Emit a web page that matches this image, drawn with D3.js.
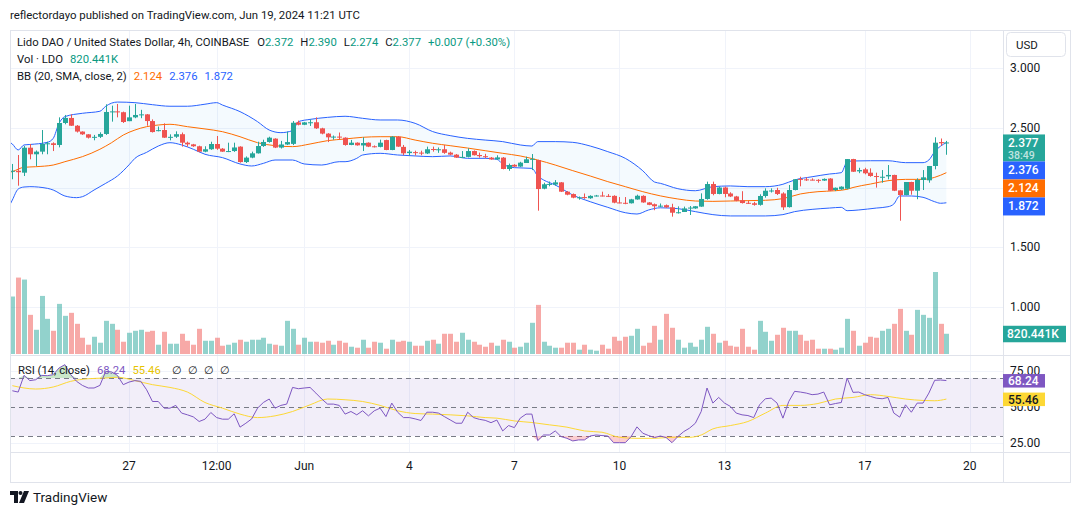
<!DOCTYPE html>
<html>
<head>
<meta charset="utf-8">
<script src="https://cdnjs.cloudflare.com/ajax/libs/d3/7.8.5/d3.min.js"></script>
<style>
  body { margin: 0; background: #fff; }
  svg { display: block; font-family: Roboto, "Noto Sans", sans-serif; }
</style>
</head>
<body>
<div id="container"></div>
<script>
let w = 1080;
let h = 515;

// DATA  (4h bars, first bar = May 23 16:00 UTC, bar offset k counted from May 27 00:00)
let firstBar = -20;

let opens = [
  2.135,2.140,2.124,2.333,2.278,2.300,2.364,2.370,2.356,2.540,
  2.582,2.517,2.468,2.445,2.417,2.424,2.448,2.632,2.637,2.630,
  2.555,2.587,2.607,2.612,2.556,2.475,2.481,2.417,2.425,2.446,
  2.375,2.361,2.345,2.300,2.320,2.364,2.325,2.300,2.305,2.342,
  2.213,2.250,2.286,2.347,2.381,2.409,2.334,2.360,2.365,2.545,
  2.525,2.540,2.546,2.495,2.451,2.420,2.426,2.417,2.356,2.375,
  2.352,2.375,2.345,2.340,2.397,2.314,2.425,2.340,2.288,2.296,
  2.292,2.285,2.322,2.316,2.320,2.292,2.275,2.250,2.256,2.305,
  2.272,2.262,2.250,2.235,2.250,2.155,2.190,2.175,2.205,2.235,
  2.230,1.990,2.027,2.025,2.043,1.965,1.945,1.915,1.920,1.910,
  1.930,1.933,1.930,1.930,1.875,1.872,1.868,1.900,1.930,1.875,
  1.860,1.843,1.852,1.834,1.789,1.795,1.825,1.825,1.840,1.904,
  2.029,1.946,2.000,1.950,1.925,1.893,1.872,1.868,1.855,1.929,
  1.972,1.979,1.950,1.836,1.979,2.072,2.068,2.066,2.064,2.058,
  2.075,1.979,1.985,1.990,2.238,2.135,2.152,2.124,2.096,2.085,
  2.093,2.105,1.976,1.937,2.046,1.973,2.063,2.060,2.180,2.380,
  2.372
];
let highs = [
  2.197,2.272,2.347,2.364,2.310,2.481,2.383,2.378,2.587,2.607,
  2.612,2.523,2.470,2.447,2.440,2.462,2.696,2.685,2.699,2.635,
  2.685,2.699,2.650,2.615,2.570,2.510,2.537,2.445,2.470,2.460,
  2.384,2.365,2.350,2.345,2.383,2.431,2.330,2.375,2.375,2.345,
  2.260,2.300,2.383,2.400,2.425,2.412,2.390,2.468,2.556,2.560,
  2.548,2.570,2.587,2.500,2.455,2.435,2.460,2.420,2.398,2.378,
  2.420,2.378,2.352,2.400,2.400,2.430,2.430,2.356,2.314,2.308,
  2.308,2.342,2.342,2.335,2.356,2.300,2.280,2.305,2.328,2.310,
  2.292,2.282,2.255,2.270,2.255,2.200,2.195,2.215,2.258,2.280,
  2.232,2.040,2.050,2.062,2.046,1.970,1.950,1.925,1.950,1.935,
  1.938,1.965,1.945,1.935,1.920,1.920,1.905,1.940,1.935,1.878,
  1.866,1.866,1.858,1.864,1.842,1.840,1.845,1.845,1.951,2.049,
  2.049,2.007,2.007,1.960,1.930,1.969,1.888,1.880,1.943,1.993,
  1.993,1.998,1.960,2.021,2.071,2.090,2.085,2.077,2.070,2.076,
  2.078,2.000,2.010,2.238,2.240,2.165,2.165,2.160,2.124,2.146,
  2.188,2.107,1.980,2.046,2.048,2.077,2.146,2.180,2.420,2.410,
  2.390
];
let lows = [
  2.069,2.015,2.096,2.236,2.180,2.278,2.278,2.305,2.336,2.529,
  2.515,2.460,2.440,2.410,2.395,2.414,2.440,2.551,2.587,2.540,
  2.555,2.580,2.580,2.517,2.460,2.470,2.415,2.395,2.415,2.342,
  2.342,2.340,2.295,2.295,2.315,2.315,2.298,2.296,2.298,2.208,
  2.205,2.245,2.284,2.340,2.375,2.330,2.326,2.355,2.355,2.520,
  2.522,2.515,2.490,2.445,2.380,2.400,2.398,2.350,2.354,2.350,
  2.305,2.338,2.335,2.336,2.312,2.312,2.340,2.270,2.268,2.268,
  2.270,2.280,2.300,2.290,2.282,2.270,2.248,2.248,2.252,2.268,
  2.250,2.245,2.232,2.232,2.152,2.140,2.172,2.172,2.205,2.146,
  1.806,1.985,2.010,2.015,1.962,1.935,1.910,1.898,1.905,1.905,
  1.925,1.925,1.920,1.868,1.868,1.860,1.866,1.898,1.872,1.852,
  1.810,1.835,1.830,1.756,1.782,1.795,1.770,1.822,1.838,1.898,
  1.935,1.943,1.918,1.920,1.885,1.866,1.862,1.848,1.848,1.915,
  1.958,1.937,1.812,1.832,1.976,2.010,2.055,2.060,2.040,2.055,
  1.970,1.970,1.980,1.985,2.130,2.120,2.110,2.090,1.999,2.040,
  2.068,1.970,1.722,1.935,1.940,1.902,1.979,2.040,2.152,2.350,
  2.274
];
let closes = [
  2.140,2.128,2.333,2.278,2.300,2.364,2.370,2.356,2.540,2.582,
  2.517,2.468,2.445,2.417,2.424,2.448,2.632,2.637,2.630,2.548,
  2.587,2.607,2.612,2.556,2.464,2.480,2.417,2.424,2.446,2.375,
  2.361,2.345,2.300,2.320,2.364,2.325,2.300,2.305,2.335,2.213,
  2.250,2.286,2.347,2.381,2.417,2.334,2.360,2.380,2.542,2.525,
  2.545,2.546,2.495,2.451,2.420,2.426,2.420,2.356,2.375,2.353,
  2.372,2.342,2.340,2.375,2.314,2.425,2.342,2.286,2.300,2.290,
  2.285,2.320,2.316,2.320,2.290,2.275,2.250,2.256,2.305,2.270,
  2.262,2.258,2.235,2.252,2.155,2.188,2.175,2.208,2.236,2.240,
  1.987,2.027,2.030,2.043,1.965,1.940,1.915,1.918,1.916,1.930,
  1.933,1.930,1.926,1.873,1.872,1.868,1.901,1.931,1.875,1.855,
  1.843,1.848,1.834,1.789,1.793,1.825,1.832,1.843,1.904,2.029,
  1.946,2.000,1.946,1.925,1.889,1.870,1.868,1.855,1.929,1.973,
  1.975,1.946,1.834,1.979,2.069,2.066,2.065,2.062,2.058,2.072,
  1.973,1.998,2.007,2.238,2.132,2.146,2.119,2.096,2.090,2.090,
  2.105,1.973,1.937,2.046,1.973,2.063,2.085,2.180,2.375,2.370,
  2.377
];
// volume in thousands of LDO
let volumes = [
  2331,3099,3018,1588,982,2355,1426,941,2032,1547,
  1669,1224,659,376,699,457,1345,1224,982,497,
  861,941,982,901,941,376,901,416,416,820,
  537,376,1022,537,537,659,335,376,457,578,
  497,578,578,659,416,376,335,1345,1022,376,
  659,497,497,457,537,376,537,457,295,255,
  578,255,497,457,214,578,497,537,497,335,
  335,537,578,416,820,820,497,861,578,497,
  376,295,457,335,578,497,255,295,457,1265,
  1992,497,335,255,255,457,457,174,376,174,
  133,376,214,699,537,699,739,1022,335,457,
  1143,578,1628,1063,578,255,457,295,578,1103,
  820,457,537,335,295,1022,295,174,1345,901,
  537,780,1063,941,941,780,537,578,214,214,
  214,174,255,1426,941,335,457,699,659,941,
  1022,1224,1830,941,780,1790,1588,1467,3325,1224,
  820.441
];
let rsiValues = [
  61.2,60.3,71.8,68.2,68.8,71.8,71.6,72.3,76.9,79.2,
  72.3,67.7,64.9,63.1,63.1,64.9,74.6,74.2,71.8,65.4,
  67.2,68.2,67.7,61.9,53.8,53.8,49.2,49.2,51.1,45.8,
  44.6,43.2,40.0,41.6,46.2,42.7,41.6,41.6,45.3,36.1,
  38.8,41.8,49.2,53.1,55.5,49.2,51.1,52.0,63.5,62.6,
  63.1,63.5,59.6,55.5,52.0,52.0,51.1,45.1,46.9,44.6,
  47.4,43.9,47.4,49.2,43.4,52.7,46.4,42.7,42.7,41.8,
  40.7,46.4,46.4,45.8,43.4,41.1,38.8,38.8,46.4,42.7,
  41.5,40.8,39.2,41.0,33.5,37.2,35.8,42.3,45.1,45.1,
  26.8,30.7,30.7,33.5,29.6,28.4,26.6,27.3,27.3,30.0,
  30.7,30.3,30.0,25.4,25.4,25.4,29.6,36.3,31.9,30.3,
  28.9,30.0,28.9,25.4,29.6,33.0,35.4,38.8,46.9,63.1,
  52.7,56.6,52.7,50.4,45.8,44.6,44.1,42.7,51.5,55.7,
  56.1,52.7,42.3,53.8,60.8,60.3,59.6,58.5,58.9,60.3,
  51.5,52.4,53.1,70.0,60.1,60.3,58.5,57.3,56.1,55.7,
  56.6,45.8,43.0,51.5,46.4,52.7,52.7,59.6,68.4,68.6,
  68.24
];

// Bollinger bands and RSI MA: [bar offset, value]
let bbUpper = [[-21,2.397],[-20,2.364],[-19,2.314],[-18,2.356],[-17,2.36],[-14,2.378],[-13,2.411],[-12,2.537],[-11,2.593],[-8,2.621],[-5,2.638],[-4,2.68],[-2,2.715],[1,2.71],[4,2.693],[7,2.68],[10,2.68],[13,2.697],[15,2.71],[16,2.69],[19,2.635],[22,2.551],[24,2.481],[26,2.459],[28,2.476],[29,2.551],[31,2.57],[34,2.587],[37,2.596],[40,2.579],[43,2.565],[46,2.565],[49,2.537],[52,2.468],[55,2.434],[58,2.411],[61,2.397],[64,2.384],[67,2.356],[69,2.347],[70,2.384],[73,2.384],[76,2.378],[79,2.347],[82,2.30],[85,2.244],[88,2.14],[90,2.046],[91,2.035],[94,1.99],[97,1.973],[100,2.007],[103,2.013],[106,2.007],[109,2.007],[112,2.027],[114,2.063],[117,2.09],[120,2.113],[122,2.124],[123,2.215],[124,2.222],[127,2.224],[130,2.224],[133,2.208],[136,2.208],[137,2.23],[138,2.30],[140,2.376]];
let bbBasis = [[-21,2.119],[-20,2.133],[-18,2.169],[-16,2.174],[-13,2.188],[-11,2.216],[-8,2.258],[-5,2.32],[-3,2.375],[-1,2.439],[1,2.481],[3,2.509],[5,2.523],[7,2.529],[10,2.509],[13,2.49],[16,2.467],[19,2.425],[22,2.375],[25,2.35],[28,2.342],[31,2.364],[34,2.392],[37,2.406],[40,2.42],[43,2.425],[46,2.425],[49,2.397],[52,2.37],[55,2.35],[58,2.33],[61,2.308],[64,2.286],[67,2.264],[70,2.23],[73,2.188],[76,2.141],[79,2.096],[82,2.049],[85,2.007],[88,1.965],[91,1.93],[94,1.904],[97,1.887],[100,1.884],[103,1.887],[106,1.89],[109,1.893],[112,1.907],[115,1.946],[118,1.965],[121,1.973],[123,1.985],[124,2.0],[127,2.029],[130,2.057],[133,2.068],[136,2.068],[138,2.085],[140,2.124]];
let bbLower = [[-21,1.80],[-20,1.895],[-19,1.987],[-18,2.004],[-17,2.007],[-14,1.993],[-13,1.979],[-11,1.929],[-9,1.915],[-8,1.923],[-6,1.979],[-4,2.035],[-2,2.096],[0,2.19],[1,2.244],[3,2.294],[5,2.347],[7,2.375],[9,2.356],[11,2.32],[13,2.278],[16,2.25],[19,2.197],[21,2.18],[23,2.202],[25,2.23],[28,2.23],[30,2.197],[33,2.188],[36,2.216],[37,2.216],[39,2.244],[40,2.272],[43,2.286],[46,2.272],[49,2.264],[52,2.258],[55,2.264],[58,2.244],[61,2.244],[63,2.236],[64,2.197],[66,2.166],[69,2.16],[70,2.096],[71,2.063],[73,2.021],[76,1.937],[79,1.881],[82,1.834],[85,1.789],[87,1.778],[89,1.812],[91,1.83],[94,1.823],[97,1.798],[100,1.773],[103,1.762],[106,1.762],[109,1.762],[112,1.773],[114,1.798],[117,1.817],[120,1.828],[122,1.834],[123,1.806],[125,1.812],[128,1.828],[130,1.839],[131,1.862],[132,1.929],[134,1.929],[136,1.918],[138,1.881],[139,1.868],[140,1.872]];
let rsiMa = [[-20,64.7],[-16,62.4],[-13,63.8],[-10,67.7],[-7,69.5],[-4,70],[-2,70.5],[1,68.2],[4,65.4],[7,63.5],[10,60.3],[13,53.1],[16,49.2],[19,45.1],[22,42.7],[25,43.9],[28,46.9],[31,51.5],[34,55.5],[37,55.0],[40,53.8],[43,51.1],[46,47.4],[49,45.5],[52,45.1],[55,44.6],[58,43.9],[61,42.7],[63,42.3],[66,40.4],[69,39.3],[72,37.7],[75,36.1],[78,33.5],[81,32.6],[84,29.1],[87,28.4],[90,28.4],[93,29.1],[96,29.1],[98,30.7],[100,34.9],[103,37.2],[106,40.0],[109,45.8],[112,51.1],[115,51.1],[118,52.4],[121,55.5],[124,56.6],[127,58.5],[130,57.3],[133,55.5],[136,54.5],[138,54.3],[140,55.46]];

let priceGrid = [1.0, 1.5, 2.0, 2.5, 3.0];
let priceLabels = [1.0, 1.5, 2.5, 3.0];
let rsiGrid = [25, 75];
let rsiLabels = [25, 50, 75];
let rsiBands = [70, 50, 30];
let timeTicks = [0, 15, 30, 48, 66, 84, 102, 126, 144];
let timeLabels = ["27", "12:00", "Jun", "4", "7", "10", "13", "17", "20"];
let countdown = "38:49";

// LAYOUT
let padL = 10, paneR = 1003, outerR = 1070;
let padT = 30, mainB = 354, rsiT = 355, rsiB = 452, outerB = 482;

let up = "#089981";
let upC = "#26a69a", downC = "#ef5350";
let ink = "#131722";

let svg = d3.select("#container").append("svg")
  .attr("width", w).attr("height", h);

let H4 = 4 * 3600 * 1000;
let may27 = Date.UTC(2024, 4, 27);
function barTime(k) { return new Date(may27 + k * H4); }

// SCALES
let x = d3.scaleUtc().domain([barTime(-20.4), barTime(149.7)]).range([padL, paneR]);
let yP = d3.scaleLinear().domain([1, 3]).range([307, 68]);
let yV = d3.scaleLinear().domain([0, d3.max(volumes)]).range([mainB, mainB - 82]);
let yR = d3.scaleLinear().domain([25, 75]).range([443.25, 370.75]);

let bars = opens.map(function(o, i) {
  return { k: i + firstBar, o: o, h: highs[i], l: lows[i], c: closes[i], v: volumes[i], r: rsiValues[i] };
});

// clip paths
let defs = svg.append("defs");
defs.append("clipPath").attr("id", "mainClip").append("rect")
  .attr("x", padL).attr("y", padT).attr("width", paneR - padL).attr("height", mainB - padT);
defs.append("clipPath").attr("id", "rsiClip").append("rect")
  .attr("x", padL).attr("y", rsiT).attr("width", paneR - padL).attr("height", rsiB - rsiT);

// HEADER
svg.append("text").attr("x", 10).attr("y", 19)
  .attr("font-size", 11.4).attr("fill", ink)
  .text("reflectordayo published on TradingView.com, Jun 19, 2024 11:21 UTC");

// GRID
let grid = svg.append("g").attr("stroke", "#f0f3fa").attr("stroke-width", 1);
grid.selectAll(".hg").data(priceGrid).enter().append("line")
  .attr("x1", padL).attr("x2", paneR)
  .attr("y1", function(d) { return Math.round(yP(d)) + 0.5; })
  .attr("y2", function(d) { return Math.round(yP(d)) + 0.5; });
grid.selectAll(".rg").data(rsiGrid).enter().append("line")
  .attr("x1", padL).attr("x2", paneR)
  .attr("y1", function(d) { return Math.round(yR(d)) + 0.5; })
  .attr("y2", function(d) { return Math.round(yR(d)) + 0.5; });
grid.selectAll(".vg").data(timeTicks).enter().append("line")
  .attr("y1", padT).attr("y2", rsiB)
  .attr("x1", function(d) { return Math.round(x(barTime(d))) + 0.5; })
  .attr("x2", function(d) { return Math.round(x(barTime(d))) + 0.5; });

// MAIN PANE
let main = svg.append("g").attr("clip-path", "url(#mainClip)");

// volume
main.selectAll(".vol").data(bars).enter().append("rect")
  .attr("x", function(d) { return Math.round(x(barTime(d.k))) - 2; })
  .attr("width", 5)
  .attr("y", function(d) { return yV(d.v); })
  .attr("height", function(d) { return mainB - yV(d.v); })
  .attr("fill", function(d) { return d.c >= d.o ? upC : downC; })
  .attr("opacity", 0.5);

// bollinger bands
let bandLine = d3.line()
  .x(function(d) { return x(barTime(d[0])); })
  .y(function(d) { return yP(d[1]); })
  .curve(d3.curveMonotoneX);
let fillPath = bandLine(bbUpper) + "L" + bandLine(bbLower.slice().reverse()).slice(1) + "Z";
main.append("path").attr("d", fillPath).attr("fill", "rgba(33,150,243,0.05)");
main.append("path").attr("d", bandLine(bbUpper)).attr("fill", "none").attr("stroke", "#2962ff").attr("stroke-width", 1);
main.append("path").attr("d", bandLine(bbLower)).attr("fill", "none").attr("stroke", "#2962ff").attr("stroke-width", 1);
main.append("path").attr("d", bandLine(bbBasis)).attr("fill", "none").attr("stroke", "#ff6d00").attr("stroke-width", 1);

// candles
let candles = main.selectAll(".candle").data(bars).enter().append("g");
candles.append("line")
  .attr("x1", function(d) { return Math.round(x(barTime(d.k))) + 0.5; })
  .attr("x2", function(d) { return Math.round(x(barTime(d.k))) + 0.5; })
  .attr("y1", function(d) { return yP(d.h); })
  .attr("y2", function(d) { return yP(d.l); })
  .attr("stroke", function(d) { return d.c >= d.o ? upC : downC; });
candles.append("rect")
  .attr("x", function(d) { return Math.round(x(barTime(d.k))) - 2; })
  .attr("width", 5)
  .attr("y", function(d) { return Math.min(yP(d.o), yP(d.c)); })
  .attr("height", function(d) { return Math.max(1, Math.abs(yP(d.o) - yP(d.c))); })
  .attr("fill", function(d) { return d.c >= d.o ? upC : downC; });

// RSI PANE
let rsiG = svg.append("g").attr("clip-path", "url(#rsiClip)");
rsiG.append("rect")
  .attr("x", padL).attr("width", paneR - padL)
  .attr("y", yR(70)).attr("height", yR(30) - yR(70))
  .attr("fill", "rgba(126,87,194,0.1)");
rsiG.selectAll(".band").data(rsiBands).enter().append("line")
  .attr("x1", padL).attr("x2", paneR)
  .attr("y1", function(d) { return Math.round(yR(d)) + 0.5; })
  .attr("y2", function(d) { return Math.round(yR(d)) + 0.5; })
  .attr("stroke", "#787b86").attr("stroke-dasharray", "5,4");

let rx = function(d) { return x(barTime(d.k)); };
rsiG.append("path").datum(bars)
  .attr("d", d3.area().x(rx).y0(yR(70)).y1(function(d) { return yR(Math.max(d.r, 70)); }))
  .attr("fill", "rgba(76,175,80,0.3)");
rsiG.append("path").datum(bars)
  .attr("d", d3.area().x(rx).y0(yR(30)).y1(function(d) { return yR(Math.min(d.r, 30)); }))
  .attr("fill", "rgba(242,54,69,0.25)");
rsiG.append("path").datum(rsiMa)
  .attr("d", d3.line().x(function(d) { return x(barTime(d[0])); }).y(function(d) { return yR(d[1]); }).curve(d3.curveMonotoneX))
  .attr("fill", "none").attr("stroke", "#fdd835").attr("stroke-width", 1);
rsiG.append("path").datum(bars)
  .attr("d", d3.line().x(rx).y(function(d) { return yR(d.r); }))
  .attr("fill", "none").attr("stroke", "#7e57c2").attr("stroke-width", 1);

// FRAME
let frame = svg.append("g").attr("stroke", "#e0e3eb").attr("fill", "none");
frame.append("rect").attr("x", padL + 0.5).attr("y", padT + 0.5)
  .attr("width", outerR - padL).attr("height", outerB - padT);
frame.append("line").attr("x1", paneR + 0.5).attr("x2", paneR + 0.5).attr("y1", padT).attr("y2", outerB);
frame.append("line").attr("x1", padL).attr("x2", outerR).attr("y1", rsiT + 0.5).attr("y2", rsiT + 0.5);
frame.append("line").attr("x1", padL).attr("x2", outerR).attr("y1", rsiB + 0.5).attr("y2", rsiB + 0.5);

// AXES
let axisText = svg.append("g").attr("font-size", 12).attr("fill", ink);
axisText.selectAll(".pl").data(priceLabels).enter().append("text")
  .attr("x", 1010).attr("y", function(d) { return yP(d) + 4; })
  .text(function(d) { return d3.format(".3f")(d); });
axisText.selectAll(".rl").data(rsiLabels).enter().append("text")
  .attr("x", 1010).attr("y", function(d) { return yR(d) + 4; })
  .text(function(d) { return d3.format(".2f")(d); });
axisText.selectAll(".tl").data(timeTicks).enter().append("text")
  .attr("x", function(d) { return x(barTime(d)); })
  .attr("y", 470).attr("text-anchor", "middle")
  .text(function(d, i) { return timeLabels[i]; });

// USD button
svg.append("rect").attr("x", 1006.5).attr("y", 32.5).attr("width", 59).attr("height", 24).attr("rx", 4)
  .attr("fill", "#fff").attr("stroke", "#e0e3eb");
svg.append("text").attr("x", 1016).attr("y", 49).attr("font-size", 11.5).attr("fill", ink).text("USD");

// PRICE TAGS
let last = bars[bars.length - 1];
let prev = bars[bars.length - 2];
let tags = [
  { v: last.c, color: upC, text: d3.format(".3f")(last.c), sub: countdown },
  { v: bbUpper[bbUpper.length - 1][1], color: "#2962ff", text: d3.format(".3f")(bbUpper[bbUpper.length - 1][1]) },
  { v: bbBasis[bbBasis.length - 1][1], color: "#ff6d00", text: d3.format(".3f")(bbBasis[bbBasis.length - 1][1]) },
  { v: bbLower[bbLower.length - 1][1], color: "#2962ff", text: d3.format(".3f")(bbLower[bbLower.length - 1][1]) }
];
let bottomEdge = -Infinity;
tags.forEach(function(t) {
  let hgt = t.sub ? 27 : 18;
  let y0 = Math.max(yP(t.v) - (t.sub ? 8 : 9), bottomEdge);
  bottomEdge = y0 + hgt;
  svg.append("rect").attr("x", paneR).attr("y", y0).attr("width", 42).attr("height", hgt).attr("fill", t.color);
  svg.append("text").attr("x", 1008).attr("y", y0 + 12.5).attr("font-size", 12).attr("font-weight", 500)
    .attr("fill", "#fff").text(t.text);
  if (t.sub) {
    svg.append("text").attr("x", 1008).attr("y", y0 + 24.5).attr("font-size", 10.5).attr("font-weight", 500)
      .attr("fill", "#fff").attr("opacity", 0.7).text(t.sub);
  }
});
// volume tag
svg.append("rect").attr("x", paneR).attr("y", yV(last.v) - 8).attr("width", 63).attr("height", 16.5).attr("fill", upC);
svg.append("text").attr("x", 1007).attr("y", yV(last.v) + 4.5).attr("font-size", 12).attr("font-weight", 500)
  .attr("fill", "#fff").text(d3.format(".3f")(last.v) + "K");
// rsi tags
let rsiTags = [
  { v: last.r, color: "#7e57c2", fg: "#fff", text: d3.format(".2f")(last.r) },
  { v: rsiMa[rsiMa.length - 1][1], color: "#fdd835", fg: ink, text: d3.format(".2f")(rsiMa[rsiMa.length - 1][1]) }
];
rsiTags.forEach(function(t) {
  let y0 = yR(t.v) - 6.5;
  svg.append("rect").attr("x", paneR).attr("y", y0).attr("width", 42).attr("height", 13.5).attr("fill", t.color);
  svg.append("text").attr("x", 1008).attr("y", y0 + 11).attr("font-size", 12).attr("font-weight", 500)
    .attr("fill", t.fg).text(t.text);
});

// LEGENDS (one text per row, pieces flow with tspans)
function legendRow(px, py, parts) {
  let t = svg.append("text").attr("x", px).attr("y", py).attr("font-size", 11.3).attr("fill", ink);
  parts.forEach(function(p) {
    t.append("tspan").attr("dx", p.gap || 0).attr("fill", p.color || ink).text(p.text);
  });
}
let chg = last.c - prev.c;
let f3 = d3.format(".3f");
legendRow(17, 46, [
  { text: "Lido DAO / United States Dollar, 4h, COINBASE" },
  { text: "O", gap: 8 }, { text: f3(last.o), color: up },
  { text: "H", gap: 7 }, { text: f3(last.h), color: up },
  { text: "L", gap: 7 }, { text: f3(last.l), color: up },
  { text: "C", gap: 7 }, { text: f3(last.c), color: up },
  { text: "+" + f3(chg) + " (+" + d3.format(".2f")(chg / prev.c * 100) + "%)", gap: 7, color: up }
]);
legendRow(17, 63, [
  { text: "Vol \u00b7 LDO" },
  { text: f3(last.v) + "K", gap: 7, color: up }
]);
legendRow(17, 80, [
  { text: "BB (20, SMA, close, 2)" },
  { text: tags[2].text, gap: 7, color: "#ff6d00" },
  { text: tags[1].text, gap: 7, color: "#2962ff" },
  { text: tags[3].text, gap: 7, color: "#2962ff" }
]);
legendRow(18, 374, [
  { text: "RSI (14, close)" },
  { text: rsiTags[0].text, gap: 7, color: "#7e57c2" },
  { text: rsiTags[1].text, gap: 7, color: "#e6c300" },
  { text: "\u2205", gap: 11 }, { text: "\u2205", gap: 6 }, { text: "\u2205", gap: 6 }, { text: "\u2205", gap: 6 }
]);

// FOOTER LOGO
let logo = svg.append("g").attr("fill", ink);
logo.append("path").attr("d", "M10 491 H18 V503 H14 V495 H10 Z");
logo.append("circle").attr("cx", 20.5).attr("cy", 493).attr("r", 2);
logo.append("path").attr("d", "M24 491 H29 L24 503 H19 Z");
svg.append("text").attr("x", 33).attr("y", 502).attr("font-size", 13.5).attr("fill", ink).text("TradingView");
</script>
</body>
</html>
